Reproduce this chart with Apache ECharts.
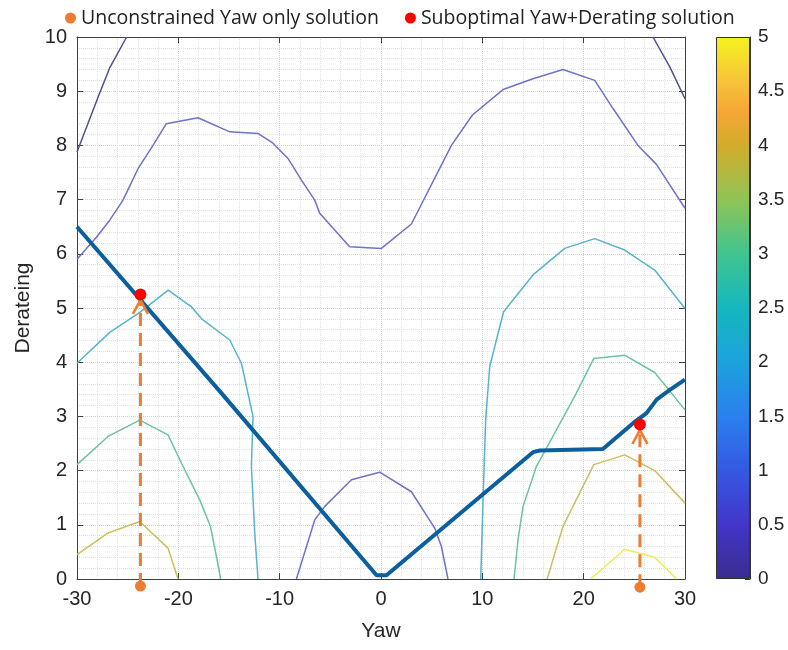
<!DOCTYPE html>
<html>
<head>
<meta charset="utf-8">
<script src="https://cdn.jsdelivr.net/npm/echarts@6/dist/echarts.min.js"></script>
<style>
html,body{margin:0;padding:0;background:#fff;}
#chart{width:788px;height:650px;}
</style>
</head>
<body>
<div id="chart"></div>
<script>
// ---- Data ----
const yawRange = [-30, 30];
const deratingRange = [0, 10];
const colorbarRange = [0, 5];

// contour lines [yaw, derating]
const navyLeft = [[-30,7.88],[-27.8,8.95],[-26.8,9.42],[-25.1,10]];
const navyRight = [[26.84,10],[28.5,9.45],[30,8.86]];
const purpleUpper = [[-30,5.9],[-28.1,6.3],[-26.77,6.62],[-25.46,6.99],[-23.98,7.57],[-22.5,8.0],[-21.18,8.40],[-18.06,8.51],[-14.93,8.25],[-12.14,8.22],[-10.66,8.04],[-9.18,7.76],[-7.85,7.36],[-6.54,6.99],[-6.05,6.75],[-3.09,6.13],[0.04,6.10],[3.0,6.55],[6.95,8.0],[9.02,8.56],[12.04,9.03],[15.0,9.23],[17.96,9.40],[21.09,9.20],[22.9,8.68],[25.36,8.0],[27.18,7.65],[30,6.84]];
const purpleLower = [[-8.35,0],[-6.54,1.09],[-5.55,1.34],[-2.92,1.83],[-0.13,1.97],[3.0,1.61],[5.3,0.94],[5.96,0.6],[6.61,0]];
const cyanLeft = [[-30,3.98],[-26.77,4.55],[-23.8,4.92],[-21.0,5.33],[-18.7,5.02],[-17.7,4.8],[-14.93,4.41],[-13.78,3.98],[-12.63,3.0],[-12.79,2.08],[-12.46,0.85],[-12.14,0]];
const cyanRight = [[9.84,0],[10.07,1.46],[10.33,2.94],[10.73,3.92],[11.55,4.53],[12.1,4.93],[15.0,5.61],[18.13,6.10],[21.09,6.28],[24.05,6.07],[27.01,5.70],[30,4.99]];
const greenLeft = [[-30,2.11],[-26.94,2.63],[-23.81,2.93],[-21.02,2.66],[-19.7,2.14],[-17.89,1.46],[-16.83,0.97],[-16.31,0.48],[-15.82,0]];
const greenRight = [[13.13,0],[13.52,0.72],[14.02,1.34],[15.34,2.08],[17.31,2.75],[19.28,3.43],[21.0,4.07],[24.05,4.13],[27.01,3.81],[30,3.12]];
const oliveLeft = [[-30,0.45],[-26.94,0.85],[-23.81,1.06],[-21.02,0.57],[-20.03,0]];
const oliveRight = [[16.39,0],[17.96,0.97],[19.61,1.59],[21.0,2.11],[24.05,2.29],[27.01,2.0],[30,1.40]];
const yellowRight = [[20.7,0],[24.05,0.55],[27.0,0.4],[29.15,0]];

// optimal (thick) path
const optimalPath = [[-30,6.5],[-15.75,3.43],[-0.44,0.07],[0.54,0.07],[15.0,2.34],[15.67,2.37],[21.9,2.40],[24.9,2.88],[26.2,3.06],[27.2,3.31],[28.5,3.49],[30,3.68]];

// solutions
const unconstrainedPts = [[-23.74,-0.13],[25.55,-0.15]];
const suboptimalPts = [[-23.74,5.25],[25.55,2.85]];
const arrowLeft = [[-23.74,-0.13],[-23.74,5.15]];
const arrowRight = [[25.55,-0.15],[25.55,2.75]];

const legendNames = ['Unconstrained Yaw only solution','Suboptimal Yaw+Derating solution'];
const colorbarCategory = ['cb'];
const colorbarValue = [5];

// ---- Styling ----
const contourStyles = [
  [navyLeft,'#50508f'],[navyRight,'#50508f'],
  [purpleUpper,'#6f72c8'],[purpleLower,'#6f72c8'],
  [cyanLeft,'#56b3cc'],[cyanRight,'#56b3cc'],
  [greenLeft,'#6cc3a0'],[greenRight,'#6cc3a0'],
  [oliveLeft,'#cbbf5e'],[oliveRight,'#cbbf5e'],
  [yellowRight,'#ecec55']
];
const parulaStops = [
  [0,'#3a2d8f'],[0.1,'#4236c8'],[0.2,'#3558e3'],[0.3,'#2b80ee'],[0.4,'#1ca2dd'],
  [0.5,'#15b7be'],[0.6,'#40c490'],[0.7,'#90c455'],[0.8,'#d2ac2a'],[0.86,'#f5a635'],
  [0.92,'#f7c43a'],[1,'#f5f31c']
];
const chevron = 'path://M0,14 L7,0 L14,14';
const orange = '#ed7d31';
const axisFont = {fontFamily:'Liberation Sans, Arial, sans-serif', fontSize:20, color:'#262626'};
const axisLineColor = '#404040';

const chart = echarts.init(document.getElementById('chart'));

const series = [];
contourStyles.forEach(function(c, i){
  series.push({type:'line', xAxisIndex:0, yAxisIndex:0, data:c[0], symbol:'none', silent:true,
    lineStyle:{color:c[1], width:1.5}, z:2});
});
series.push({type:'line', xAxisIndex:0, yAxisIndex:0, data:optimalPath, symbol:'none', silent:true,
  lineStyle:{color:'#0c5f9e', width:4}, z:3});

function arrowSeries(pts){
  return {type:'line', xAxisIndex:0, yAxisIndex:0, clip:false, silent:true, z:4,
    lineStyle:{color:orange, width:3, type:[13,7]},
    data:[
      {value:pts[0], symbol:'none'},
      {value:pts[1], symbol:chevron, symbolSize:[15,14], symbolOffset:[0,7],
        itemStyle:{color:'rgba(0,0,0,0)', borderColor:orange, borderWidth:2.5, opacity:1}}
    ]};
}
series.push(arrowSeries(arrowLeft));
series.push(arrowSeries(arrowRight));

series.push({name:legendNames[0], type:'scatter', xAxisIndex:0, yAxisIndex:0, data:unconstrainedPts,
  clip:false, symbolSize:11, itemStyle:{color:orange, opacity:1}, z:5});
series.push({name:legendNames[1], type:'scatter', xAxisIndex:0, yAxisIndex:0, data:suboptimalPts,
  clip:false, symbolSize:12, itemStyle:{color:'#ff0000', opacity:1}, z:5});

series.push({type:'bar', xAxisIndex:2, yAxisIndex:2, data:colorbarValue, barWidth:'100%', silent:true,
  itemStyle:{borderColor:'#333', borderWidth:1,
    color:{type:'linear', x:0, y:1, x2:0, y2:0,
      colorStops:parulaStops.map(function(s){return {offset:s[0], color:s[1]};})}}});

chart.setOption({
  animation:false,
  backgroundColor:'#fff',
  legend:{data:legendNames, top:3, left:60, icon:'circle', itemWidth:11, itemHeight:11, itemGap:26,
    textStyle:{fontFamily:'Open Sans, Noto Sans, sans-serif', fontSize:19.5, color:'#222'}},
  grid:[
    {left:77, right:103, top:37, bottom:71},
    {left:716, right:38, top:37, bottom:71}
  ],
  xAxis:[
    {type:'value', gridIndex:0, min:yawRange[0], max:yawRange[1], interval:10,
      name:'Yaw', nameLocation:'middle', nameGap:42,
      nameTextStyle:{fontFamily:'Liberation Sans, Arial, sans-serif', fontSize:21, color:'#262626'},
      axisLine:{show:true, onZero:false, lineStyle:{color:axisLineColor}},
      axisTick:{show:true, inside:true, length:6, lineStyle:{color:axisLineColor}},
      axisLabel:Object.assign({margin:10}, axisFont),
      splitLine:{show:true, lineStyle:{color:'#cfcfcf', type:'dotted'}},
      minorTick:{show:false, splitNumber:5},
      minorSplitLine:{show:true, lineStyle:{color:'#e2e2e2', type:'dotted'}}},
    {type:'value', gridIndex:0, position:'top', min:yawRange[0], max:yawRange[1], interval:10,
      axisLine:{show:true, onZero:false, lineStyle:{color:axisLineColor}},
      axisTick:{show:true, inside:true, length:6, lineStyle:{color:axisLineColor}},
      axisLabel:{show:false}, splitLine:{show:false}},
    {type:'category', gridIndex:1, data:colorbarCategory, show:false}
  ],
  yAxis:[
    {type:'value', gridIndex:0, min:deratingRange[0], max:deratingRange[1], interval:1,
      name:'Derateing', nameLocation:'middle', nameGap:41,
      nameTextStyle:{fontFamily:'Liberation Sans, Arial, sans-serif', fontSize:21, color:'#262626'},
      axisLine:{show:true, onZero:false, lineStyle:{color:axisLineColor}},
      axisTick:{show:true, inside:true, length:6, lineStyle:{color:axisLineColor}},
      axisLabel:Object.assign({margin:10}, axisFont),
      splitLine:{show:true, lineStyle:{color:'#cfcfcf', type:'dotted'}},
      minorTick:{show:false, splitNumber:5},
      minorSplitLine:{show:true, lineStyle:{color:'#e2e2e2', type:'dotted'}}},
    {type:'value', gridIndex:0, position:'right', min:deratingRange[0], max:deratingRange[1], interval:1,
      axisLine:{show:true, onZero:false, lineStyle:{color:axisLineColor}},
      axisTick:{show:true, inside:true, length:6, lineStyle:{color:axisLineColor}},
      axisLabel:{show:false}, splitLine:{show:false}},
    {type:'value', gridIndex:1, position:'right', min:colorbarRange[0], max:colorbarRange[1], interval:0.5,
      axisLine:{show:true, lineStyle:{color:'#333'}},
      axisTick:{show:true, inside:true, length:5, lineStyle:{color:'#333'}},
      axisLabel:{margin:8, fontFamily:'Liberation Sans, Arial, sans-serif', fontSize:19, color:'#262626'},
      splitLine:{show:false}}
  ],
  series:series
});
</script>
</body>
</html>
